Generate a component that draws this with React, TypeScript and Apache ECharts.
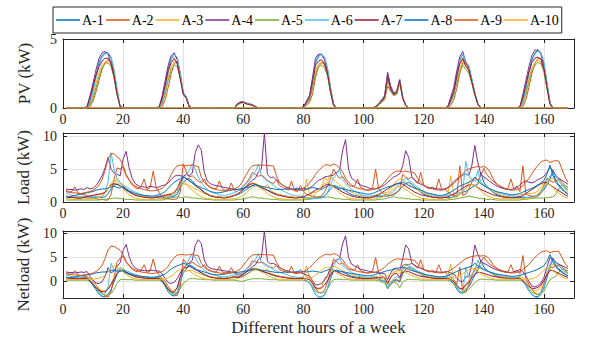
import React, { useEffect, useRef } from "react";
import * as echarts from "echarts";

// ---------- DATA ----------
const seriesNames = ["A-1", "A-2", "A-3", "A-4", "A-5", "A-6", "A-7", "A-8", "A-9", "A-10"];
const seriesColors = ["#0072BD", "#D95319", "#EDB120", "#7E2F8E", "#77AC30", "#4DBEEE", "#A2142F", "#0072BD", "#D95319", "#EDB120"];
const xTicks = [0, 20, 40, 60, 80, 100, 120, 140, 160];
const hours = Array.from({ length: 168 }, (_, i) => i + 1);

// Load (kW), one row of 24 hourly values per day
const loadA1 = [
  [0.9,0.8,0.7,0.7,0.6,0.6,0.7,0.6,0.6,0.6,0.7,0.7, 0.7,0.8,1.3,2.0,2.6,2.7,2.4,2.1,1.8,1.5,1.3,1.1],
  [1.0,0.9,0.8,0.8,0.7,0.7,0.7,0.6,0.6,0.7,0.7,0.8, 0.9,1.2,2.2,3.0,3.4,3.6,3.2,2.7,2.2,1.8,1.4,1.2],
  [1.0,0.9,0.8,0.8,0.7,0.7,0.8,0.9,1.0,1.1,1.3,1.6, 1.9,2.2,2.5,2.6,2.4,2.2,2.0,1.8,1.6,1.4,1.2,1.1],
  [1.0,0.9,0.8,0.7,0.7,0.7,0.7,0.7,0.6,0.6,0.6,0.6, 0.6,0.7,0.9,1.4,2.0,2.5,2.4,2.2,2.0,1.7,1.4,1.1],
  [1.0,0.9,0.8,0.7,0.7,0.7,0.8,0.8,0.8,0.8,0.9,0.9, 1.0,1.1,1.4,1.9,2.4,2.8,3.0,2.7,2.3,1.9,1.5,1.2],
  [1.0,0.9,0.8,0.7,0.7,0.7,0.7,0.7,0.7,0.8,0.8,1.2, 1.5,1.6,1.9,2.2,2.5,2.7,4.5,3.0,2.4,1.9,1.5,1.2],
  [1.0,0.9,0.8,0.8,0.7,0.7,0.7,0.7,0.7,0.7,0.7,0.8, 0.9,1.1,1.4,1.9,2.6,3.5,4.8,3.0,2.4,1.9,1.5,1.2],
];
const loadA2 = [
  [1.8,1.5,1.6,2.3,1.4,1.2,1.1,1.0,0.8,0.6,0.5,0.4, 0.4,0.3,0.3,1.2,3.5,5.2,5.0,5.3,4.0,3.3,2.6,2.2],
  [2.0,2.4,3.5,1.9,2.2,4.7,2.2,1.4,0.8,0.6,0.5,0.4, 0.4,0.5,1.5,5.8,4.6,3.8,4.0,3.6,3.2,2.9,3.5,2.6],
  [2.3,2.1,2.0,3.2,2.0,1.8,1.9,2.9,1.7,1.6,2.0,2.4, 2.9,3.6,4.5,4.2,3.9,4.1,3.8,3.3,3.0,2.8,3.4,2.5],
  [2.2,2.0,1.8,3.2,1.7,1.6,2.5,1.6,1.2,1.0,0.9,0.8, 0.8,0.9,1.5,2.5,3.5,5.0,4.2,3.6,3.9,3.2,2.6,2.4],
  [2.4,3.5,2.2,2.0,1.8,1.9,2.2,5.0,2.0,1.5,1.2,1.0, 1.0,1.2,1.5,1.8,4.2,3.8,3.5,3.8,3.3,2.8,4.5,2.6],
  [2.2,2.0,2.3,1.8,3.5,1.9,2.0,1.5,1.2,1.0,0.9,5.5, 1.0,1.2,2.0,3.0,3.8,3.3,4.0,5.1,4.2,3.6,3.2,2.8],
  [2.5,2.3,2.1,2.0,3.5,2.0,2.4,1.6,5.5,1.2,1.0,0.9, 0.8,0.9,1.5,2.6,3.6,3.3,3.0,3.2,3.5,3.0,2.5,2.2],
];
const loadA3 = [
  [0.9,0.8,0.8,0.7,0.7,0.7,0.8,0.9,1.0,1.0,1.1,1.1, 1.2,1.4,2.0,2.7,3.1,3.5,2.8,2.4,2.0,1.6,1.3,1.1],
  [1.0,0.9,0.8,0.8,0.7,0.7,0.8,0.9,1.0,1.1,1.2,1.3, 1.5,2.0,3.3,3.0,2.8,2.5,2.3,2.0,1.8,1.5,1.3,1.1],
  [1.0,0.9,0.8,0.8,0.7,0.7,0.8,0.9,1.0,1.2,1.6,2.0, 2.4,2.7,2.9,2.8,2.6,2.3,2.1,2.7,1.8,1.5,1.3,1.1],
  [1.0,0.9,0.8,0.8,0.7,0.7,0.8,1.0,3.5,1.3,1.4,1.5, 1.6,2.0,3.8,3.2,4.2,3.4,3.0,2.6,2.3,2.0,1.7,1.5],
  [1.3,1.1,1.0,0.9,0.8,0.8,0.9,1.1,1.2,1.3,1.4,1.5, 2.0,2.6,3.2,3.5,3.3,3.1,2.7,2.4,2.1,1.8,1.6,1.4],
  [1.2,1.0,0.9,0.9,0.8,0.8,0.9,1.1,4.0,1.2,1.3,1.4, 1.6,2.0,3.0,3.5,3.2,3.0,2.8,2.5,2.2,1.9,1.6,1.4],
  [1.2,1.0,0.9,0.8,0.8,0.8,0.9,1.1,1.2,1.2,1.3,1.3, 1.4,1.7,2.3,3.0,3.3,3.5,3.6,3.0,3.3,2.6,2.0,1.6],
];
const loadA4 = [
  [2.0,1.9,1.9,1.8,1.9,2.0,1.9,2.2,2.0,2.1,2.5,3.2, 4.0,5.2,6.8,5.0,4.4,4.2,4.0,6.5,7.7,5.2,3.6,2.8],
  [2.5,2.3,2.3,2.2,2.4,2.3,2.2,2.3,2.5,2.6,2.9,3.4, 3.9,4.1,4.0,3.9,4.2,4.0,4.4,7.5,8.7,7.9,4.5,3.2],
  [2.8,2.6,2.5,2.4,2.3,2.2,2.1,2.0,2.0,1.9,1.8,2.0, 2.4,2.9,3.3,3.6,4.6,5.0,10.5,4.2,3.7,3.8,3.4,2.9],
  [2.6,2.3,2.2,2.0,1.9,1.9,1.8,1.8,1.9,2.1,2.4,2.9, 3.3,3.5,3.8,3.9,4.0,4.1,4.5,4.8,7.8,9.5,5.0,3.6],
  [3.3,2.9,2.6,2.4,2.3,2.1,2.0,2.0,2.1,2.3,2.6,3.0, 3.4,3.8,4.0,4.3,5.5,7.8,6.8,3.9,3.4,3.0,2.7,2.5],
  [2.3,2.2,2.1,2.0,2.0,1.9,2.0,2.2,2.6,3.1,3.5,3.8, 4.1,4.3,4.0,5.5,8.6,6.0,4.2,3.8,3.5,3.1,2.8,2.5],
  [2.3,2.1,2.0,1.9,1.9,2.0,2.2,2.6,3.0,3.2,3.0,2.9, 3.1,3.4,3.6,3.9,4.5,5.3,4.8,4.0,3.6,3.3,3.0,2.7],
];
const loadA5 = [
  [0.3,0.3,0.3,0.3,0.3,0.3,0.3,0.3,0.3,0.3,0.3,0.3, 0.4,0.4,0.5,0.5,0.6,0.6,0.5,0.5,0.4,0.4,0.4,0.3],
  [0.3,0.3,0.3,0.3,0.3,0.3,0.3,0.3,0.3,0.4,0.5,0.6, 0.7,0.8,0.7,0.7,0.8,0.7,0.6,0.6,0.5,0.5,0.4,0.4],
  [0.4,0.3,0.3,0.3,0.3,0.3,0.3,0.3,0.3,0.4,0.4,0.5, 0.6,0.7,0.8,0.7,0.6,0.6,0.5,0.5,0.4,0.4,0.4,0.3],
  [0.3,0.3,0.3,0.3,0.3,0.3,0.3,0.3,0.4,0.4,0.5,0.6, 0.7,0.8,0.7,0.8,0.7,0.6,0.5,0.5,0.4,0.4,0.4,0.3],
  [0.3,0.3,0.3,0.3,0.3,0.3,0.3,0.3,0.4,0.4,0.5,0.6, 0.7,0.8,0.7,0.6,0.6,0.5,0.5,0.4,0.4,0.4,0.3,0.3],
  [0.3,0.3,0.3,0.3,0.3,0.3,0.3,0.3,0.4,0.4,0.5,0.6, 0.7,0.8,0.9,0.8,0.7,0.6,0.5,0.5,0.4,0.4,0.4,0.3],
  [0.3,0.3,0.3,0.3,0.3,0.3,0.3,0.3,0.4,0.4,0.5,0.5, 0.6,0.6,0.6,0.6,0.7,0.7,0.8,1.2,2.0,2.6,2.4,1.8],
];
const loadA6 = [
  [1.4,1.2,1.0,0.9,0.8,0.8,0.9,0.9,0.8,0.8,0.8,0.8, 0.8,1.5,3.0,7.5,5.0,3.5,3.0,2.6,2.3,2.0,1.7,1.5],
  [1.3,1.1,1.0,0.9,0.8,0.8,0.9,0.9,0.9,0.9,0.9,1.0, 1.1,1.6,2.6,3.6,4.2,4.8,5.8,5.0,3.8,3.0,2.4,1.9],
  [1.6,1.4,1.3,1.1,1.0,1.0,1.1,1.3,1.4,1.6,2.0,2.4, 2.8,3.3,4.0,4.6,5.8,4.0,3.5,3.2,2.9,2.5,2.2,2.0],
  [1.7,1.5,1.3,1.1,1.0,0.9,0.9,0.8,0.6,0.5,0.5,0.5, 0.5,0.6,0.8,1.5,2.6,3.6,4.2,5.0,3.4,2.8,2.3,1.9],
  [1.6,1.4,1.2,1.0,0.9,0.9,1.0,1.0,1.0,1.0,1.0,1.1, 1.3,1.6,2.2,2.8,3.3,3.6,3.3,3.0,2.6,2.2,1.9,1.6],
  [1.4,1.2,1.1,1.0,0.9,0.9,1.0,1.0,1.1,1.2,1.3,1.4, 1.6,6.2,4.0,3.5,3.2,4.8,3.0,2.6,2.3,2.0,1.8,1.6],
  [1.4,1.3,1.1,1.0,0.9,0.9,0.9,0.8,0.8,0.7,0.7,0.7, 0.7,0.8,1.3,2.2,3.2,4.0,4.5,3.8,3.2,2.6,2.1,1.8],
];
const loadA7 = [
  [0.8,0.7,0.7,0.6,0.6,0.6,0.7,0.8,0.9,1.0,1.1,1.2, 1.3,1.5,2.0,2.6,2.8,2.7,2.5,2.2,1.9,1.6,1.3,1.0],
  [0.9,0.8,0.7,0.7,0.6,0.6,0.7,0.8,0.9,1.0,1.1,1.2, 1.4,2.0,3.0,3.8,3.6,3.3,2.9,2.5,2.2,1.9,1.5,1.2],
  [0.9,0.8,0.7,0.7,0.6,0.6,0.7,0.8,1.0,1.2,1.5,1.9, 2.3,2.6,2.8,2.7,2.5,2.2,2.0,1.8,1.5,1.3,1.1,1.0],
  [0.9,0.8,0.7,0.7,0.6,0.6,0.7,0.8,1.0,1.2,1.5,1.8, 2.0,2.2,2.5,2.7,2.6,2.4,2.1,1.8,1.5,1.3,1.1,0.9],
  [0.8,0.7,0.7,0.6,0.6,0.6,0.7,0.9,1.1,1.4,1.7,2.0, 2.3,2.6,2.8,2.9,2.7,2.4,2.1,1.8,1.5,1.3,1.1,1.0],
  [0.9,0.8,0.7,0.7,0.6,0.6,0.7,0.8,1.0,1.2,1.5,1.8, 2.1,2.4,2.6,2.7,2.5,2.2,1.9,1.7,1.5,1.3,1.1,1.0],
  [0.9,0.8,0.7,0.7,0.6,0.6,0.7,0.8,1.0,1.3,1.6,1.9, 2.2,2.5,2.8,3.0,2.9,2.6,2.3,2.0,1.7,1.4,1.1,0.9],
];
const loadA8 = [
  [0.8,0.8,0.9,1.0,1.1,1.2,1.3,1.4,1.5,1.6,1.8,1.9, 2.0,2.0,2.1,2.3,2.4,2.2,2.1,2.4,2.0,1.7,1.5,1.3],
  [1.2,1.1,1.0,1.0,0.9,0.9,1.0,1.1,1.3,1.6,2.1,2.6, 3.0,3.3,3.5,3.8,3.6,3.2,2.9,2.6,2.4,2.2,2.0,1.8],
  [1.6,1.5,1.4,1.4,1.5,1.6,1.7,1.8,1.9,1.9,2.0,2.1, 2.2,2.3,2.5,2.6,2.5,2.4,2.3,2.2,2.1,2.0,1.9,1.9],
  [1.9,2.0,2.0,1.9,2.0,2.1,2.0,2.1,2.0,2.1,2.2,2.1, 2.0,1.9,2.2,2.4,2.6,2.4,2.2,2.0,2.1,1.9,1.8,1.7],
  [1.6,1.5,1.4,1.3,1.2,1.2,1.3,1.5,1.7,1.9,2.1,2.3, 2.4,2.5,2.7,2.9,3.0,2.8,2.5,2.3,2.1,2.0,1.8,1.6],
  [1.4,1.3,1.2,1.1,1.0,1.0,1.1,1.3,1.5,1.8,2.1,2.4, 2.6,2.8,3.0,3.2,3.8,3.3,2.8,2.5,2.2,2.0,1.8,1.6],
  [1.5,1.4,1.3,1.2,1.1,1.1,1.2,1.3,1.5,1.7,1.9,2.1, 2.3,2.6,2.9,3.3,4.2,5.6,4.0,3.2,2.6,2.1,1.6,1.2],
];
const loadA9 = [
  [1.6,1.5,1.4,1.4,1.3,1.3,1.4,1.5,1.6,1.8,2.1,2.6, 3.4,4.8,6.6,7.4,7.3,6.9,6.5,5.6,4.2,3.4,2.8,2.4],
  [2.2,2.0,1.9,1.8,1.7,1.7,1.8,1.9,2.1,2.5,3.2,4.2, 5.0,5.5,5.6,5.6,5.5,5.6,5.6,5.5,5.4,3.8,3.0,2.5],
  [2.2,2.0,1.9,1.8,1.7,1.7,1.8,1.9,2.0,2.2,2.6,3.4, 4.2,5.0,5.5,5.6,5.6,5.6,5.6,5.6,5.5,5.5,4.0,3.0],
  [2.6,2.3,2.1,1.9,1.8,1.8,1.9,2.1,2.4,2.9,3.5,4.2, 4.8,5.2,5.6,5.7,5.5,5.8,5.6,5.2,4.6,3.6,3.0,2.6],
  [2.3,2.1,2.0,1.9,1.8,1.8,1.9,2.0,2.2,2.5,3.0,3.6, 4.1,4.5,4.7,4.7,4.6,4.7,4.6,4.5,4.4,3.6,3.0,2.6],
  [2.3,2.1,2.0,1.9,1.8,1.8,1.9,2.1,2.4,2.8,3.3,3.8, 4.3,4.8,5.0,5.2,5.3,5.4,5.3,5.4,5.2,4.6,3.6,2.9],
  [2.5,2.2,2.0,1.9,1.8,1.8,1.9,2.1,2.5,3.0,3.6,4.3, 5.0,5.6,6.1,6.3,6.4,6.0,6.2,6.3,6.2,5.0,3.8,3.0],
];
const loadA10 = [
  [0.5,0.5,0.4,0.4,0.4,0.4,0.4,0.5,0.5,0.5,0.6,0.7, 0.9,1.3,2.0,2.8,3.3,3.0,2.5,2.0,1.5,1.1,0.8,0.6],
  [0.5,0.4,0.4,0.4,0.4,0.4,0.4,0.5,0.5,0.6,0.8,1.1, 1.6,2.2,2.5,2.8,2.6,2.2,1.8,1.4,1.1,0.8,0.6,0.5],
  [0.5,0.4,0.4,0.4,0.4,0.4,0.4,0.5,0.5,0.6,0.8,1.0, 1.4,1.8,2.2,2.5,2.3,2.0,1.7,1.3,1.0,0.8,0.6,0.5],
  [0.5,0.4,0.4,0.4,0.4,0.4,0.4,0.5,0.6,0.7,0.9,1.3, 1.8,2.4,2.8,3.0,2.7,2.3,1.8,1.4,1.1,0.8,0.6,0.5],
  [0.5,0.4,0.4,0.4,0.4,0.4,0.4,0.5,0.6,0.7,0.9,1.2, 1.6,2.0,2.3,2.4,2.2,1.9,1.6,1.3,1.0,0.8,0.6,0.5],
  [0.5,0.4,0.4,0.4,0.4,0.4,0.4,0.5,0.6,0.7,0.9,1.2, 1.6,2.1,2.5,2.7,2.5,2.1,1.7,1.3,1.0,0.8,0.6,0.5],
  [0.5,0.5,0.5,0.5,0.5,0.5,0.5,0.5,0.5,0.5,0.5,0.6, 0.8,1.2,1.8,2.4,2.8,2.6,2.2,1.7,1.3,1.0,0.7,0.6],
];

// PV (kW): daylight segments, each starting at the hour in pvDayStart (zero elsewhere)
const pvDayStart = [8, 32, 57, 80, 104, 128, 152];
const pvA1 = [
  [0.0,0.5,1.4,2.4,3.3,3.8,4.0,4.0,3.6,2.6,1.2,0.1],
  [0.0,0.6,1.6,2.8,3.6,3.9,3.6,2.4,1.1,0.8,0.1],
  [0.0,0.25,0.4,0.45,0.35,0.3,0.2,0.1,0.0],
  [0.0,0.4,0.8,1.9,3.3,3.8,3.9,3.6,2.8,1.4,0.3,0.0],
  [0.1,0.3,0.6,0.8,2.4,1.5,1.0,1.1,2.0,0.8,0.2,0.0],
  [0.0,0.6,1.2,2.4,3.5,3.9,3.2,3.0,2.1,1.1,0.3,0.0],
  [0.0,0.6,1.5,2.6,3.5,4.0,4.2,4.0,3.2,1.8,0.4,0.0],
];
const pvA2 = [
  [0.0,0.1,0.5,1.2,2.0,2.8,3.3,3.5,3.3,2.5,1.2,0.1],
  [0.0,0.1,0.6,1.5,2.5,3.2,3.4,2.6,1.1,0.8,0.1],
  [0.0,0.2,0.35,0.4,0.35,0.3,0.2,0.1,0.0],
  [0.0,0.2,0.4,1.0,2.2,3.0,3.3,3.2,2.6,1.4,0.3,0.0],
  [0.0,0.2,0.4,0.6,1.6,1.2,0.9,1.0,1.8,0.8,0.2,0.0],
  [0.0,0.2,0.6,1.4,2.5,3.3,3.4,2.6,1.9,1.0,0.3,0.0],
  [0.0,0.1,0.6,1.5,2.5,3.2,3.6,3.6,3.0,1.8,0.4,0.0],
];
const pvA3 = [
  [0.0,0.3,0.9,1.8,2.6,3.1,3.3,3.3,3.0,2.2,1.0,0.1],
  [0.0,0.4,1.2,2.2,3.0,3.4,3.2,2.3,1.0,0.7,0.1],
  [0.0,0.2,0.35,0.4,0.3,0.25,0.2,0.1,0.0],
  [0.0,0.3,0.6,1.5,2.7,3.2,3.3,3.0,2.4,1.2,0.2,0.0],
  [0.0,0.2,0.5,0.7,2.1,1.3,1.0,1.0,1.9,0.7,0.2,0.0],
  [0.0,0.4,1.0,2.0,2.8,3.5,3.0,2.7,1.9,1.0,0.3,0.0],
  [0.0,0.4,1.1,2.1,2.9,3.3,3.5,3.3,2.7,1.5,0.3,0.0],
];
const pvA4 = [
  [0.1,0.9,1.8,2.8,3.6,4.0,4.1,3.9,3.2,2.2,1.0,0.1],
  [0.1,0.9,2.0,3.1,3.8,4.0,3.5,2.2,1.1,0.8,0.1],
  [0.0,0.3,0.45,0.45,0.35,0.3,0.25,0.1,0.0],
  [0.1,0.5,0.9,2.2,3.6,3.9,3.9,3.5,2.6,1.2,0.2,0.0],
  [0.1,0.3,0.6,0.9,2.6,1.6,1.1,1.2,2.1,0.8,0.2,0.0],
  [0.1,0.8,1.5,2.7,3.7,4.1,3.3,3.0,2.0,1.0,0.3,0.0],
  [0.1,1.0,2.0,3.0,3.8,4.2,4.2,3.9,3.0,1.6,0.3,0.0],
];
const pvA5 = [
  [0.0,0.2,0.7,1.5,2.3,2.9,3.2,3.3,3.0,2.2,1.0,0.1],
  [0.0,0.3,1.0,2.0,2.8,3.1,3.0,2.2,1.0,0.7,0.1],
  [0.0,0.2,0.35,0.4,0.3,0.25,0.2,0.1,0.0],
  [0.0,0.3,0.6,1.4,2.5,3.0,3.1,2.9,2.3,1.1,0.2,0.0],
  [0.0,0.2,0.5,0.7,2.0,1.3,0.9,1.0,1.9,0.7,0.2,0.0],
  [0.0,0.4,0.9,1.8,2.6,3.1,2.8,2.5,1.8,0.9,0.3,0.0],
  [0.0,0.3,1.0,1.9,2.7,3.1,3.3,3.2,2.6,1.4,0.3,0.0],
];
const pvA6 = [
  [0.0,0.4,1.2,2.2,3.1,3.7,3.9,4.0,3.7,2.8,1.4,0.1],
  [0.0,0.5,1.4,2.6,3.5,3.9,3.7,2.5,1.1,0.8,0.1],
  [0.0,0.25,0.4,0.45,0.35,0.3,0.2,0.1,0.0],
  [0.0,0.4,0.8,1.8,3.2,3.7,3.9,3.7,2.9,1.5,0.3,0.0],
  [0.1,0.3,0.6,0.8,2.3,1.4,1.0,1.1,2.1,0.8,0.2,0.0],
  [0.0,0.5,1.1,2.2,3.4,3.9,3.3,3.1,2.1,1.1,0.3,0.0],
  [0.0,0.5,1.4,2.5,3.4,3.9,4.1,4.0,3.3,1.9,0.4,0.0],
];
const pvA7 = [
  [0.1,0.8,1.6,2.4,3.0,3.4,3.6,3.6,3.2,2.3,1.0,0.1],
  [0.1,0.7,1.7,2.7,3.3,3.6,3.2,2.1,1.0,0.7,0.1],
  [0.0,0.3,0.4,0.4,0.3,0.25,0.2,0.1,0.0],
  [0.1,0.4,0.8,1.9,3.1,3.4,3.5,3.2,2.5,1.2,0.2,0.0],
  [0.1,0.3,0.5,0.8,2.3,1.4,1.0,1.1,2.0,0.7,0.2,0.0],
  [0.1,0.6,1.2,2.3,3.2,3.6,3.0,2.8,1.9,1.0,0.3,0.0],
  [0.1,0.8,1.7,2.6,3.3,3.6,3.7,3.5,2.8,1.5,0.3,0.0],
];
const pvNone: number[][] = [];

const loadDays = [loadA1, loadA2, loadA3, loadA4, loadA5, loadA6, loadA7, loadA8, loadA9, loadA10];
const pvSegments = [pvA1, pvA2, pvA3, pvA4, pvA5, pvA6, pvA7, pvNone, pvNone, pvNone];

// ---------- helpers ----------
function expandDays(days: number[][]): number[] {
  const out = new Array(168).fill(0);
  days.forEach((row, d) => row.forEach((v, i) => { const k = d * 24 + i; if (k < 168) out[k] = v; }));
  return out;
}
function expandPv(segs: number[][]): number[] {
  const out = new Array(168).fill(0);
  segs.forEach((row, d) => row.forEach((v, i) => { const k = pvDayStart[d] - 1 + i; if (k < 168) out[k] = v; }));
  return out;
}

const FONT = "Liberation Serif";
const AX = "#262626";

export default function App() {
  const ref = useRef<HTMLDivElement>(null);
  useEffect(() => {
    if (!ref.current) return;
    const chart = echarts.init(ref.current, undefined, { renderer: "svg" });

    const loads = loadDays.map(expandDays);
    const pvs = pvSegments.map(expandPv);
    const nets = loads.map((l, k) => l.map((v, i) => Math.round((v - pvs[k][i]) * 100) / 100));
    const panels = [pvs, loads, nets];

    const grids = [
      { left: 63, right: 32, top: 39, height: 69 },
      { left: 63, right: 32, top: 133, height: 69 },
      { left: 63, right: 32, top: 231, height: 67 },
    ];
    const yCfg = [
      { name: "PV (kW)", min: 0, max: 5, interval: 5 },
      { name: "Load (kW)", min: 0, max: 10.5, interval: 5 },
      { name: "Netload (kW)", min: -3.4, max: 10.5, splitNumber: 3 },
    ];

    const xAxes: any[] = [];
    const yAxes: any[] = [];
    grids.forEach((_, p) => {
      xAxes.push({
        type: "value", gridIndex: p, min: 0, max: 170, interval: 20, position: "bottom",
        axisLine: { show: true, onZero: false, lineStyle: { color: AX, width: 1 } },
        axisTick: { show: true, inside: true, length: 4, lineStyle: { color: AX } },
        axisLabel: {
          color: AX, fontSize: 14, fontFamily: FONT, margin: 4,
          formatter: (v: number) => (xTicks.includes(v) ? String(v) : ""),
        },
        splitLine: { show: true, lineStyle: { color: "#e2e2e2", width: 1 } },
        name: p === 2 ? "Different hours of a week" : "",
        nameLocation: "middle", nameGap: 21,
        nameTextStyle: { color: AX, fontSize: 17, fontFamily: FONT },
      });
      xAxes.push({
        type: "value", gridIndex: p, min: 0, max: 170, interval: 20, position: "top",
        axisLine: { show: true, onZero: false, lineStyle: { color: AX, width: 1 } },
        axisTick: { show: true, inside: true, length: 4, lineStyle: { color: AX } },
        axisLabel: { show: false }, splitLine: { show: false },
      });
      const yc = yCfg[p];
      yAxes.push({
        type: "value", gridIndex: p, min: yc.min, max: yc.max,
        ...(yc.interval ? { interval: yc.interval } : { splitNumber: yc.splitNumber }),
        position: "left",
        axisLine: { show: true, onZero: false, lineStyle: { color: AX, width: 1 } },
        axisTick: { show: true, inside: true, length: 4, lineStyle: { color: AX } },
        axisLabel: {
          color: AX, fontSize: 14, fontFamily: FONT, margin: 6,
          formatter: (v: number) => (Math.abs(v % 5) < 1e-9 ? String(v) : ""),
        },
        splitLine: { show: true, lineStyle: { color: "#e2e2e2", width: 1 } },
        name: yc.name, nameLocation: "middle", nameGap: 30,
        nameTextStyle: { color: AX, fontSize: 17, fontFamily: FONT },
      });
      yAxes.push({
        type: "value", gridIndex: p, min: yc.min, max: yc.max,
        ...(yc.interval ? { interval: yc.interval } : { splitNumber: yc.splitNumber }),
        position: "right",
        axisLine: { show: true, onZero: false, lineStyle: { color: AX, width: 1 } },
        axisTick: { show: true, inside: true, length: 4, lineStyle: { color: AX } },
        axisLabel: { show: false }, splitLine: { show: false },
      });
    });

    const series: any[] = [];
    panels.forEach((vals, p) => {
      vals.forEach((arr, k) => {
        series.push({
          type: "line", name: seriesNames[k],
          xAxisIndex: p * 2, yAxisIndex: p * 2,
          data: hours.map((h, i) => [h, arr[i]]),
          symbol: "none", showSymbol: false,
          lineStyle: { width: 1, color: seriesColors[k] },
          itemStyle: { color: seriesColors[k] },
          emphasis: { disabled: true },
        });
      });
    });

    chart.setOption({
      animation: false,
      backgroundColor: "#ffffff",
      textStyle: { fontFamily: FONT },
      legend: {
        data: seriesNames.map((n) => ({ name: n, icon: "rect" })),
        left: 53, top: 7,
        orient: "horizontal",
        itemWidth: 24, itemHeight: 1.5, itemGap: 2,
        padding: [6, 3, 6, 3],
        borderColor: AX, borderWidth: 1,
        textStyle: { color: "#000", fontSize: 14, fontFamily: FONT, padding: [0, 0, 0, -3] },
        selectedMode: false,
      },
      grid: grids,
      xAxis: xAxes,
      yAxis: yAxes,
      series,
    });
    return () => chart.dispose();
  }, []);
  return (
    <div
      ref={ref}
      style={{ position: "absolute", left: 0, top: 0, width: 606, height: 339, background: "#fff" }}
    />
  );
}
